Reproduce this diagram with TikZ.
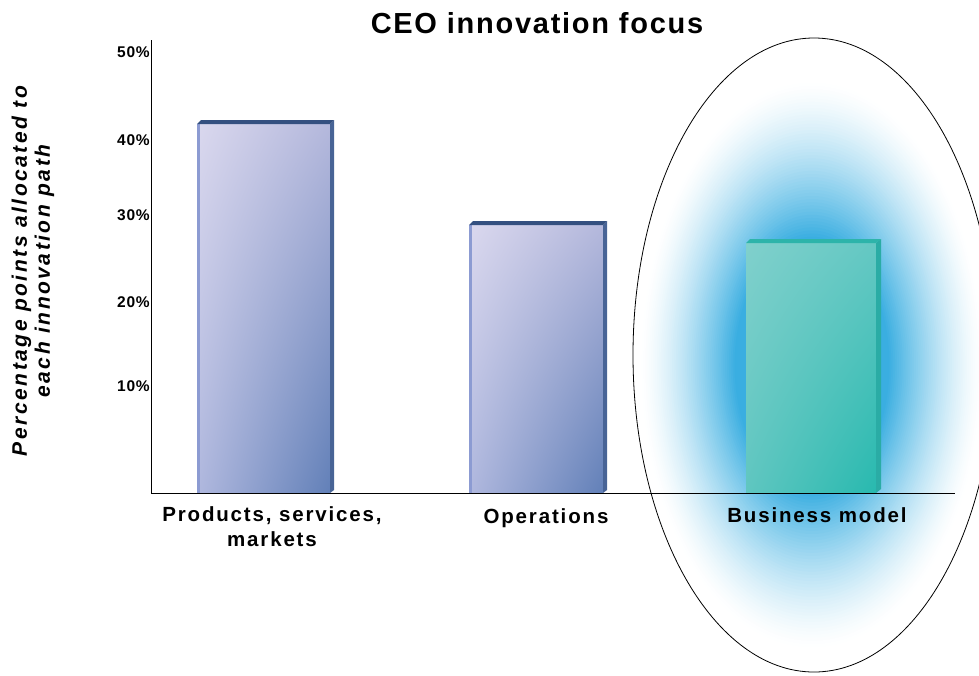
\documentclass[tikz,border=0pt]{standalone}
\usepackage{fontspec}
\setmainfont{Liberation Sans}
\newfontfamily\chartfont{Liberation Sans}[LetterSpace=9]
\newfontfamily\tickfont{Liberation Sans}[LetterSpace=5]
\newfontfamily\titlefont{Liberation Sans}[LetterSpace=6]
\newfontfamily\axisfont{Liberation Sans}[LetterSpace=12]
\usetikzlibrary{shapes,shadings}

\definecolor{prodtl}{RGB}{218,216,238}
\definecolor{prodtr}{RGB}{180,184,220}
\definecolor{prodbl}{RGB}{176,184,222}
\definecolor{prodbr}{RGB}{98,128,184}
\definecolor{prodedge}{RGB}{140,155,210}
\definecolor{prodside}{RGB}{72,100,150}
\definecolor{prodtop}{RGB}{52,80,128}
\definecolor{bmtl}{RGB}{128,208,204}
\definecolor{bmtr}{RGB}{100,200,195}
\definecolor{bmbl}{RGB}{95,198,192}
\definecolor{bmbr}{RGB}{40,185,175}
\definecolor{bmside}{RGB}{42,172,165}
\definecolor{bmtop}{RGB}{45,180,170}
\definecolor{glowblue}{RGB}{58,174,225}

\tikzset{
  axisline/.style={black, line width=0.8pt},
  ticklbl/.style={anchor=east, inner sep=0pt, font=\tickfont\bfseries\fontsize{15.5}{18}\selectfont},
  catlbl/.style={align=center, inner sep=0pt, font=\chartfont\bfseries\fontsize{20.5}{25}\selectfont},
}

\begin{document}
\begin{tikzpicture}[x=1pt, y=-1pt]
\useasboundingbox (0,0) rectangle (979,675);
\clip (0,0) rectangle (979,675);

% glow and ring round the business model bar
\foreach \i in {0,...,50}{
  \pgfmathsetmacro{\f}{1-0.011*\i}
  \pgfmathsetmacro{\p}{100*(\i/50)^1.4}
  \fill[glowblue!\p!white] (812,365) ellipse ({172*\f} and {285*\f});
}
\draw[black, line width=0.8pt] (814,355) ellipse (181 and 317);

% bars
\shade[upper left=prodtl, upper right=prodtr, lower left=prodbl, lower right=prodbr] (197,124) rectangle (330,493);
\fill[prodedge] (197,124) rectangle (200,493);
\fill[prodside] (330,124) -- (334,120) -- (334,490) -- (330,493) -- cycle;
\fill[prodtop] (197,124) -- (201,120) -- (334,120) -- (330,124) -- cycle;

\shade[upper left=prodtl, upper right=prodtr, lower left=prodbl, lower right=prodbr] (469,225) rectangle (603,493);
\fill[prodedge] (469,225) rectangle (472,493);
\fill[prodside] (603,225) -- (607,221) -- (607,490) -- (603,493) -- cycle;
\fill[prodtop] (469,225) -- (473,221) -- (607,221) -- (603,225) -- cycle;

\shade[upper left=bmtl, upper right=bmtr, lower left=bmbl, lower right=bmbr] (746,243) rectangle (876,493);
\fill[bmside] (876,243) -- (881,239) -- (881,489) -- (876,493) -- cycle;
\fill[bmtop] (746,243) -- (750,239) -- (881,239) -- (876,243) -- cycle;

% axes
\coordinate (ytop) at (151,40);
\coordinate (orig) at (151,493);
\coordinate (xend) at (955,493);
\draw[axisline] (ytop) -- (orig) -- (xend);

\foreach \v/\y in {50/52, 40/140, 30/215, 20/302, 10/386}
  \node[ticklbl] (t\v) at (150,\y) {\v\%};

% labels
\node[font=\titlefont\bfseries\fontsize{29}{34}\selectfont, inner sep=0pt] (title) at (537,23) {CEO innovation focus};
\node[rotate=90, align=center, inner sep=0pt, font=\axisfont\bfseries\itshape\fontsize{21}{23}\selectfont] (ylabel) at (33,271) {Percentage points allocated to\\each innovation path};

\node[catlbl] (catprod) at (272,527) {Products, services,\\markets};
\node[catlbl] (catops) at (546,518) {Operations};
\node[catlbl] (catbm) at (817,515) {Business model};

\end{tikzpicture}
\end{document}
